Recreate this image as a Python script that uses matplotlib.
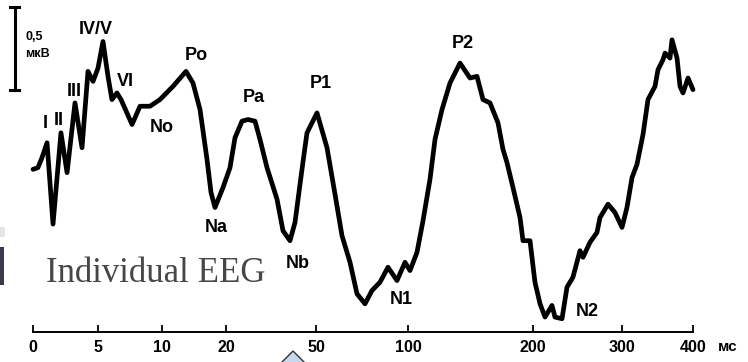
import numpy as np
import matplotlib.pyplot as plt
from matplotlib.patches import Rectangle, Polygon
from matplotlib.lines import Line2D
from matplotlib.scale import FuncScale

# ********************data**********************************************************************************
tick_ms = [0, 5, 10, 20, 50, 100, 200, 300, 400]
tick_labels = ['0', '5', '10', '20', '50', '100', '200', '300', '400']
# uneven time axis: distance of each tick from the 0 tick
tick_pos = [0, 65, 129, 193, 283, 375, 500, 589, 660]

t_ms = [0, 0.38, 0.69, 1.08, 1.54, 2.15, 2.62, 3.23, 3.77, 4.23, 4.62, 5.0, 5.39,
        5.78, 6.09, 6.48, 6.8, 7.66, 8.28, 9.06, 9.84, 11.72, 13.75, 14.84, 15.94,
        17.03, 17.66, 18.28, 19.53, 21.33, 23.0, 25.33, 27.33, 29.67, 31.33, 33.67,
        37.0, 39.0, 41.33, 43.0, 45.33, 47.0, 50.54, 55.98, 60.33, 64.13, 68.48,
        72.28, 76.63, 80.43, 84.78, 89.13, 94.02, 98.37, 101.6, 107.2, 112.0, 117.6,
        121.6, 127.2, 133.6, 141.6, 149.6, 155.2, 160.0, 165.6, 172.0, 176.0, 179.2,
        184.0, 189.6, 192.0, 197.6, 202.2, 207.9, 213.5, 221.3, 224.7, 232.6, 238.2,
        244.9, 252.8, 256.2, 264.0, 271.9, 275.3, 284.3, 292.1, 300.0, 307.0, 314.1,
        321.1, 329.6, 336.6, 346.5, 350.7, 357.7, 360.6, 367.6, 370.4, 377.5, 381.7,
        385.9, 393.0, 400.0]
amp_uv = [0.98, 0.99, 1.05, 1.14, 0.65, 1.2, 0.96, 1.38, 1.11, 1.57, 1.51, 1.59, 1.75,
          1.54, 1.4, 1.44, 1.4, 1.25, 1.36, 1.36, 1.4, 1.48, 1.57, 1.5, 1.34,
          1.04, 0.84, 0.75, 0.87, 0.99, 1.17, 1.27, 1.28, 1.27, 1.16, 0.99,
          0.8, 0.61, 0.55, 0.66, 0.98, 1.2, 1.32, 1.11, 0.83, 0.58, 0.42,
          0.23, 0.17, 0.25, 0.3, 0.39, 0.31, 0.42, 0.37, 0.48, 0.67, 0.92,
          1.16, 1.34, 1.5, 1.62, 1.53, 1.54, 1.4, 1.38, 1.26, 1.1, 1.02,
          0.87, 0.69, 0.55, 0.55, 0.3, 0.17, 0.09, 0.16, 0.09, 0.08, 0.27,
          0.33, 0.49, 0.45, 0.54, 0.6, 0.69, 0.77, 0.72, 0.63, 0.75, 0.93,
          1.01, 1.19, 1.4, 1.48, 1.58, 1.64, 1.68, 1.65, 1.76, 1.65, 1.48,
          1.44, 1.53, 1.46]

peak_names = ['I', 'II', 'III', 'IV/V', 'VI', 'No', 'Po', 'Na', 'Pa', 'Nb',
              'P1', 'N1', 'P2', 'N2']
# label centres in pixels of the 748x362 picture
peak_xy = [(45, 124), (59, 120), (74, 91), (96, 29), (125, 82), (162, 128),
           (196, 56), (216, 227), (254, 98), (298, 263), (321, 83), (401, 300),
           (463, 44), (587, 312)]

W, H = 748, 362


def px(x, y):
    return x / W, 1 - y / H


fig = plt.figure(figsize=(W / 100, H / 100), dpi=100)
ax = fig.add_axes([33 / W, 30 / H, 660 / W, 332 / H])

ax.set_xscale(FuncScale(ax.xaxis, (lambda v: np.interp(v, tick_ms, tick_pos),
                                   lambda p: np.interp(p, tick_pos, tick_ms))))
ax.plot(t_ms, amp_uv, color='black', lw=3.4, solid_joinstyle='round',
        solid_capstyle='round', clip_on=False)
ax.set_xlim(0, 400)
ax.set_ylim(0, 2.0)

for s in ['left', 'right', 'top']:
    ax.spines[s].set_visible(False)
ax.spines['bottom'].set_linewidth(1.4)
ax.set_yticks([])
ax.set_xticks(tick_ms)
ax.set_xticklabels(tick_labels, fontfamily='Liberation Sans', fontweight='bold',
                   fontsize=11.5)
ax.tick_params(axis='x', direction='in', length=5, width=1.3, pad=6)

fig.text(*px(728, 347), 'мс', ha='center', va='center', fontsize=11,
         fontfamily='Liberation Sans', fontweight='bold')

for name, (x, y) in zip(peak_names, peak_xy):
    fig.text(*px(x, y), name, ha='center', va='center', fontsize=13,
             fontfamily='Liberation Sans', fontweight='bold')

# scale bar 0,5 мкВ
fig.add_artist(Line2D([15 / W, 15 / W], [1 - 7 / H, 1 - 90 / H], color='black', lw=2.2))
for yy in [7, 90]:
    fig.add_artist(Line2D([10 / W, 19 / W], [1 - yy / H, 1 - yy / H], color='black', lw=2.2))
fig.text(*px(25, 37), '0,5', ha='left', va='center', fontsize=9,
         fontfamily='Liberation Sans', fontweight='bold')
fig.text(*px(25, 54), 'мкВ', ha='left', va='center', fontsize=9,
         fontfamily='Liberation Sans', fontweight='bold')

# caption box
fig.add_artist(Rectangle(px(45, 295), 222 / W, 38 / H, transform=fig.transFigure,
                         facecolor='#f5f5f5', edgecolor='none', zorder=0))
fig.text(*px(156, 274), 'Individual EEG', ha='center', va='center', fontsize=25,
         fontfamily='Liberation Serif', color='#474747')

# dark scrap on the left edge
fig.add_artist(Rectangle(px(0, 237), 5 / W, 10 / H, transform=fig.transFigure,
                         facecolor='#e4e4ea', edgecolor='none'))
fig.add_artist(Rectangle(px(0, 285), 4 / W, 38 / H, transform=fig.transFigure,
                         facecolor='#3a3a4c', edgecolor='none'))

# light blue chevron at the bottom
fig.add_artist(Polygon([px(281, 363), px(293, 351), px(305, 363)], closed=False,
                       transform=fig.transFigure, facecolor='#c9d8ec',
                       edgecolor='#333333', lw=1.0))

fig.savefig('out.png', dpi=100)
